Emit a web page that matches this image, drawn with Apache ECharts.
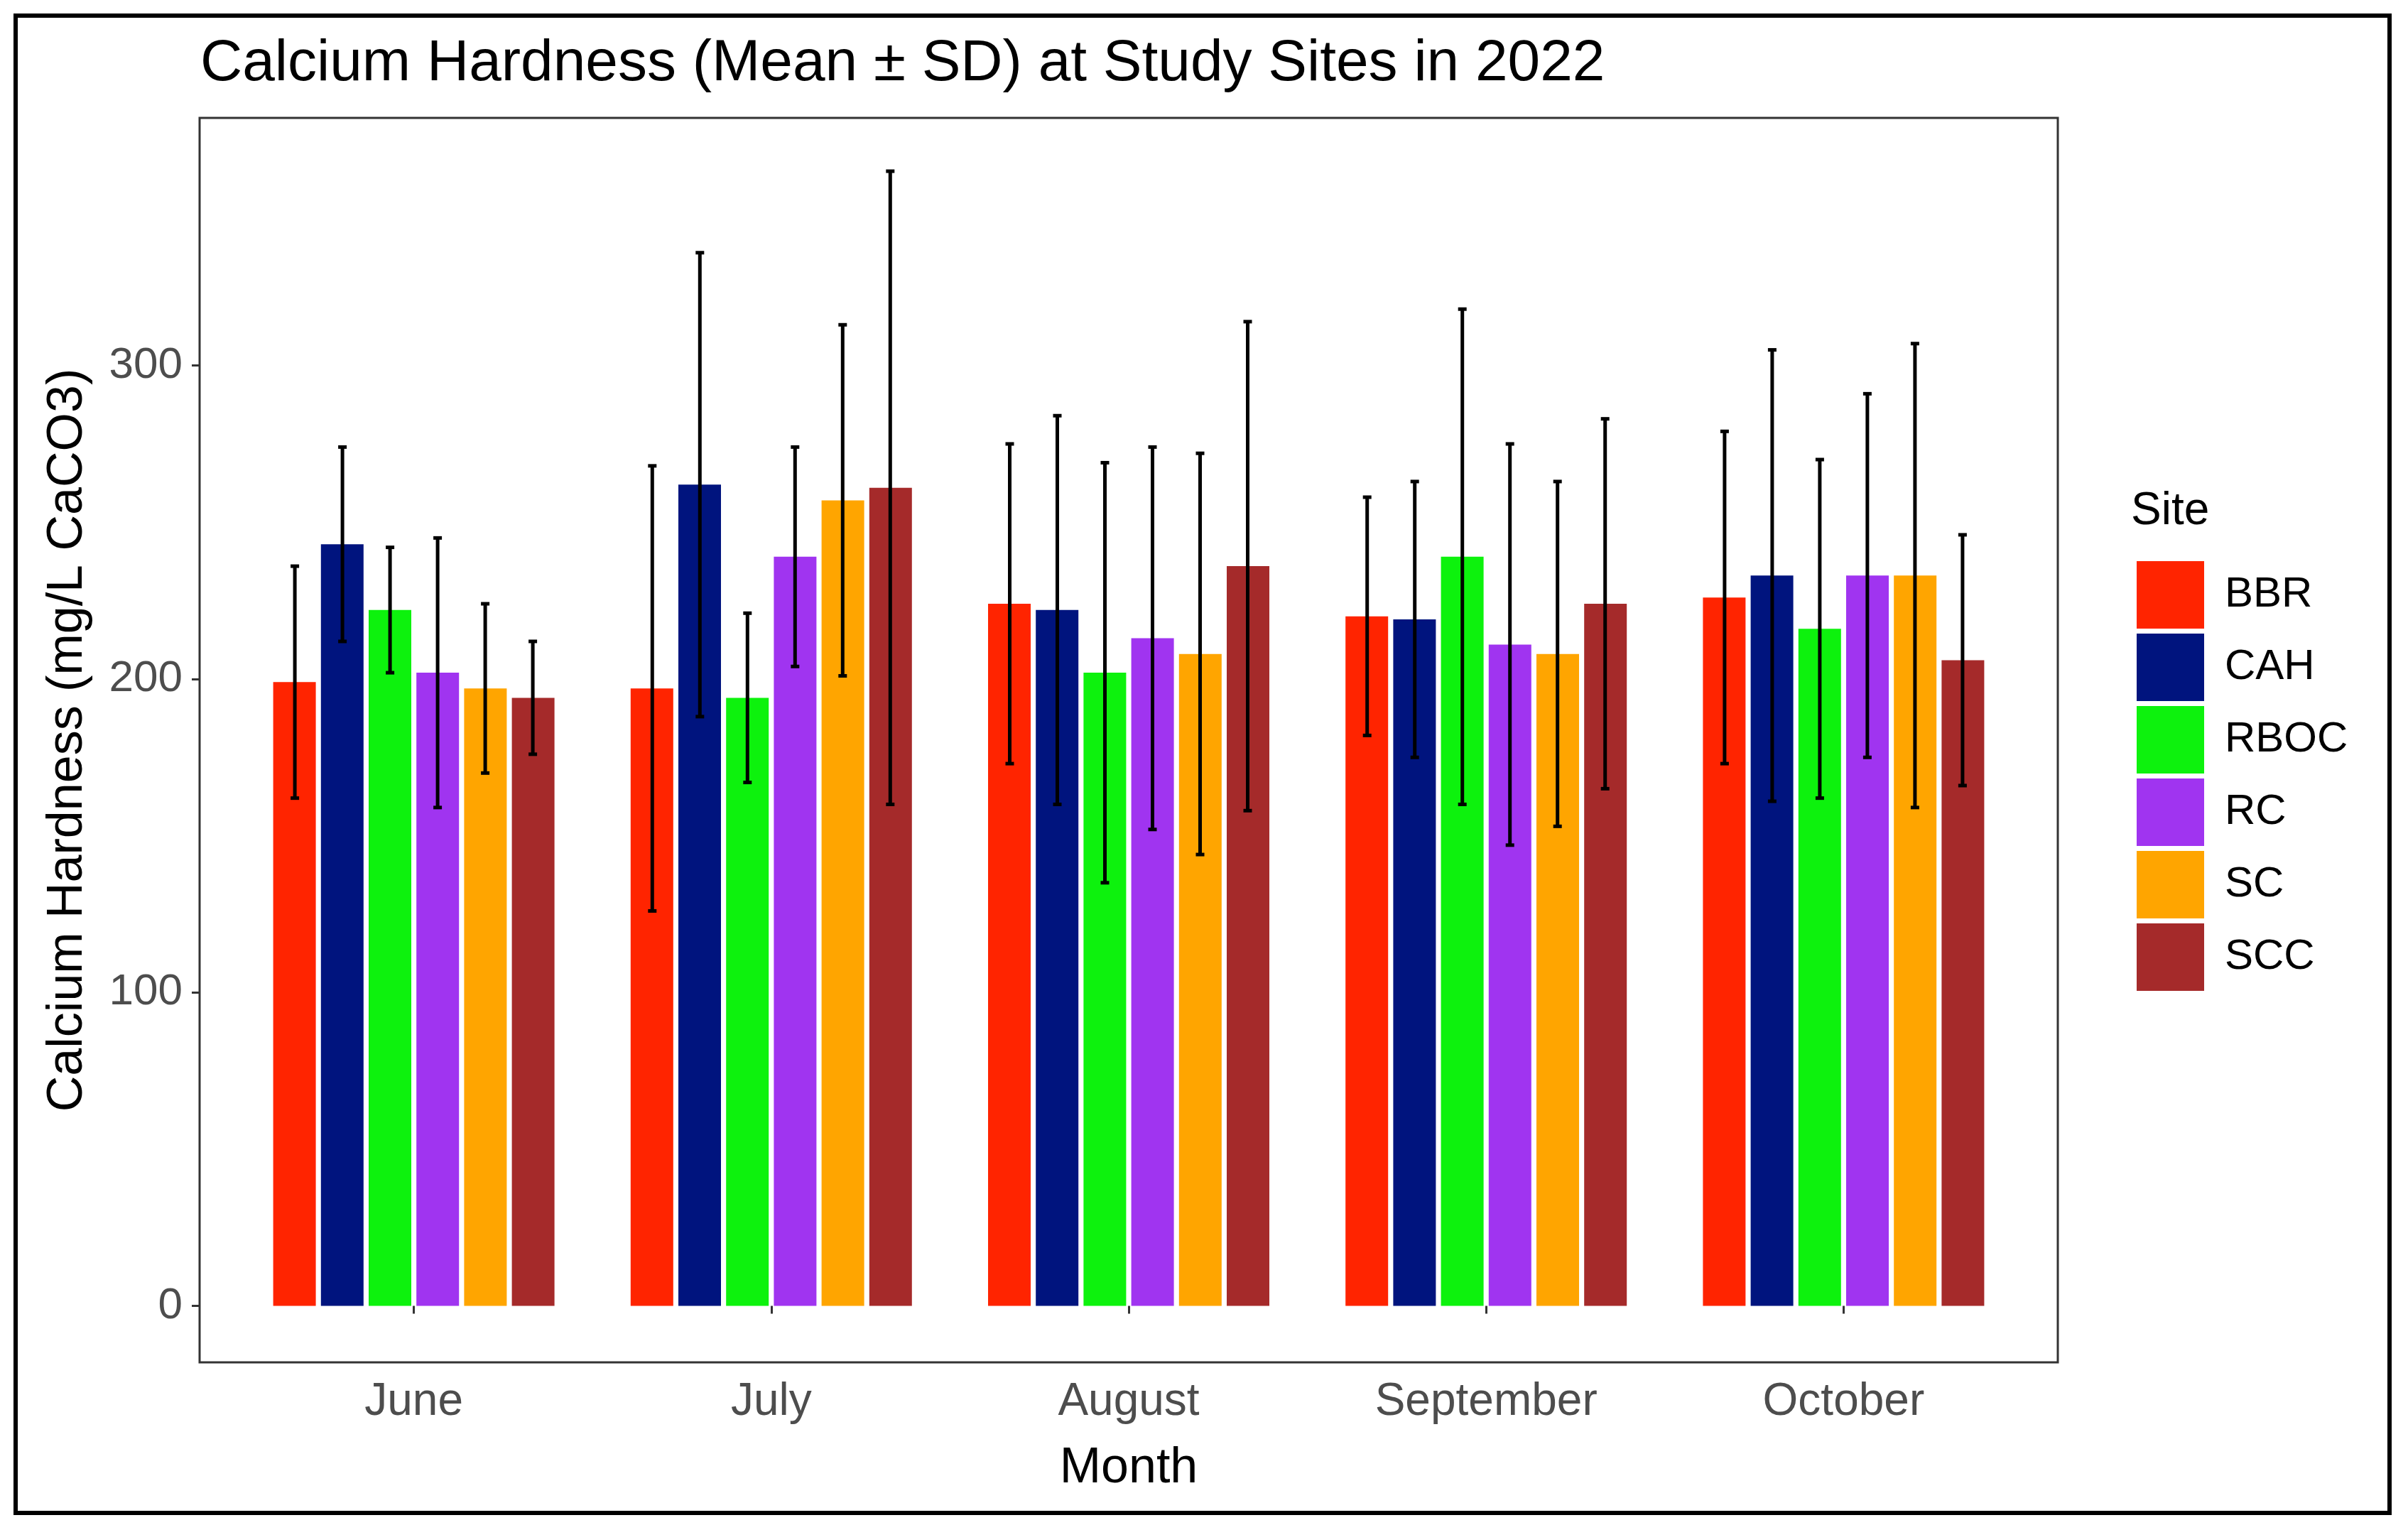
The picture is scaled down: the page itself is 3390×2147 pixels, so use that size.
<!DOCTYPE html>
<html><head><meta charset="utf-8">
<script src="https://cdn.jsdelivr.net/npm/echarts@6/dist/echarts.min.js"></script>
<style>html,body{margin:0;padding:0;background:#fff}#c{width:3390px;height:2147px}</style>
</head><body><div id="c"></div>
<script>
const months = ['June','July','August','September','October'];
const sites = ['BBR','CAH','RBOC','RC','SC','SCC'];
const colors = ['#FF2400','#00147E','#0DF20D','#A034F0','#FFA500','#A52A2A'];
const yTicks = [0,100,200,300];
const meanBBR = [199,197,224,220,226];
const meanCAH = [243,262,222,219,233];
const meanRBOC = [222,194,202,239,216];
const meanRC = [202,239,213,211,233];
const meanSC = [197,257,208,208,233];
const meanSCC = [194,261,236,224,206];
const sdBBR = [37,71,51,38,53];
const sdCAH = [31,74,62,44,72];
const sdRBOC = [20,27,67,79,54];
const sdRC = [43,35,61,64,58];
const sdSC = [27,56,64,55,74];
const sdSCC = [18,101,78,59,40];
const means = [meanBBR,meanCAH,meanRBOC,meanRC,meanSC,meanSCC];
const sds = [sdBBR,sdCAH,sdRBOC,sdRC,sdSC,sdSCC];

const barW = 60, step = 67;
const series = [];
sites.forEach((s,i)=>{
  series.push({name:s,type:'bar',data:means[i],barWidth:barW,barGap:'12%',
    itemStyle:{color:colors[i]}});
});
sites.forEach((s,i)=>{
  series.push({type:'custom',z:10,
    data:months.map((m,j)=>[j,means[i][j]-sds[i][j],means[i][j]+sds[i][j]]),
    renderItem:function(params,api){
      const lo=api.coord([api.value(0),api.value(1)]);
      const hi=api.coord([api.value(0),api.value(2)]);
      const x=lo[0]+(i-2.5)*step, cw=6;
      const st={stroke:'#000',lineWidth:5};
      return {type:'group',children:[
        {type:'line',shape:{x1:x,y1:lo[1],x2:x,y2:hi[1]},style:st},
        {type:'line',shape:{x1:x-cw,y1:lo[1],x2:x+cw,y2:lo[1]},style:st},
        {type:'line',shape:{x1:x-cw,y1:hi[1],x2:x+cw,y2:hi[1]},style:st}
      ]};
    }});
});

const chart = echarts.init(document.getElementById('c'));
chart.setOption({
  animation:false,
  title:{text:'Calcium Hardness (Mean ± SD) at Study Sites in 2022',left:277,top:44,
    textStyle:{fontFamily:'Liberation Sans',fontWeight:'normal',fontSize:82,color:'#000'}},
  grid:{left:331,right:543,top:166,bottom:229,show:false},
  legend:{data:sites,orient:'vertical',left:3003,top:785,icon:'rect',itemWidth:95,itemHeight:95,itemGap:7,
    textStyle:{fontFamily:'Liberation Sans',fontSize:60,color:'#000',padding:[0,0,0,24]}},
  xAxis:{type:'category',data:months,
    axisLine:{show:false},axisTick:{show:true,alignWithLabel:true,length:11,lineStyle:{color:'#333',width:3}},
    axisLabel:{fontFamily:'Liberation Sans',fontSize:64,color:'#4d4d4d',margin:24},
    name:'Month',nameLocation:'middle',nameGap:115,
    nameTextStyle:{fontFamily:'Liberation Sans',fontSize:70,color:'#000'}},
  yAxis:{type:'value',min:-18,max:379,offset:50,splitLine:{show:false},
    axisLine:{show:false},
    axisTick:{show:true,length:11,customValues:yTicks,lineStyle:{color:'#333',width:3}},
    axisLabel:{fontFamily:'Liberation Sans',fontSize:62,color:'#4d4d4d',margin:24,customValues:yTicks},
    name:'Calcium Hardness (mg/L CaCO3)',nameLocation:'middle',nameGap:150,
    nameTextStyle:{fontFamily:'Liberation Sans',fontSize:70,color:'#000'}},
  graphic:[
    {type:'rect',shape:{x:281,y:166,width:2616,height:1752},style:{fill:'none',stroke:'#333',lineWidth:3},z:100},
    {type:'rect',shape:{x:22,y:22,width:3342,height:2108},style:{fill:'none',stroke:'#000',lineWidth:6},z:100},
    {type:'text',left:3000,top:688,style:{text:'Site',font:'64px "Liberation Sans"',fill:'#000'}}
  ],
  series:series
});
</script></body></html>
